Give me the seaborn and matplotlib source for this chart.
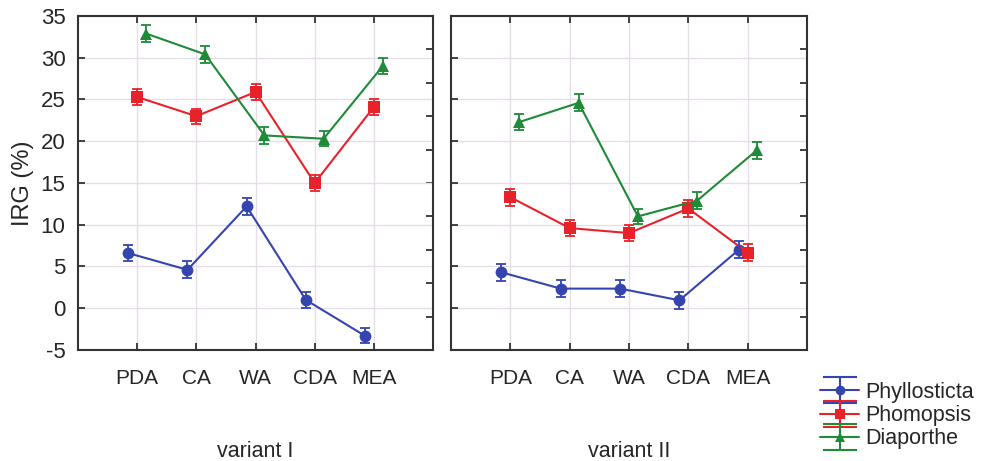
import numpy as np
import pandas as pd
import matplotlib
matplotlib.use('Agg')
import matplotlib.pyplot as plt
import seaborn as sns
from matplotlib.lines import Line2D
from matplotlib.path import Path
from matplotlib.legend_handler import HandlerTuple

# media on the x axis
MEDIA = ['PDA', 'CA', 'WA', 'CDA', 'MEA']
FUNGI = ['Phyllosticta', 'Phomopsis', 'Diaporthe']
VARIANTS = ['variant I', 'variant II']

# IRG (%), one list per fungus and variant
PHYLLO_I = [6.6, 4.6, 12.2, 1.0, -3.3]
PHOMO_I = [25.3, 23.0, 25.9, 15.0, 24.1]
DIAPO_I = [32.9, 30.4, 20.7, 20.3, 29.0]

PHYLLO_II = [4.3, 2.35, 2.35, 0.95, 7.0]
PHOMO_II = [13.3, 9.6, 9.0, 11.95, 6.65]
DIAPO_II = [22.3, 24.6, 11.0, 12.9, 18.9]

# error bar half-widths
ERR_I = [[1.0, 1.0, 1.05, 1.0, 0.9], [1.0, 0.9, 1.0, 1.0, 1.0], [1.0, 1.0, 1.0, 0.9, 1.0]]
ERR_II = [[1.0, 1.0, 1.0, 1.0, 1.0], [1.0, 1.0, 1.0, 1.0, 1.0], [1.0, 1.0, 0.9, 1.0, 1.0]]

COLORS = {'Phyllosticta': '#3545b0', 'Phomopsis': '#e8222a', 'Diaporthe': '#1f8a38'}
MARKERS = {'Phyllosticta': 'o', 'Phomopsis': 's', 'Diaporthe': '^'}
OFFSET = {'Phyllosticta': -0.15, 'Phomopsis': 0.0, 'Diaporthe': 0.15}


def build_df():
    rows = []
    series = {
        'variant I': [PHYLLO_I, PHOMO_I, DIAPO_I],
        'variant II': [PHYLLO_II, PHOMO_II, DIAPO_II],
    }
    errs = {'variant I': ERR_I, 'variant II': ERR_II}
    for v in VARIANTS:
        for fi, f in enumerate(FUNGI):
            for mi, m in enumerate(MEDIA):
                rows.append({'variant': v, 'fungus': f, 'medium': m,
                             'x': mi + OFFSET[f],
                             'irg': series[v][fi][mi], 'err': errs[v][fi][mi]})
    return pd.DataFrame(rows)


df = build_df()

sns.set_style('white')
plt.rcParams['font.family'] = ['Liberation Sans', 'DejaVu Sans']
plt.rcParams['axes.unicode_minus'] = False

fig = plt.figure(figsize=(9.85, 4.61), dpi=100)
ax1 = fig.add_axes([0.0792, 0.2408, 0.3604, 0.7245])
ax2 = fig.add_axes([0.4579, 0.2408, 0.3614, 0.7245])

for ax, v in zip([ax1, ax2], VARIANTS):
    sub = df[df['variant'] == v]
    sns.lineplot(data=sub, x='x', y='irg', hue='fungus', style='fungus',
                 hue_order=FUNGI, style_order=FUNGI, palette=COLORS,
                 markers=MARKERS, dashes=False, markersize=8.5, linewidth=1.5,
                 markeredgewidth=0, errorbar=None, legend=False, ax=ax, zorder=3)
    for f in FUNGI:
        s = sub[sub['fungus'] == f]
        ax.errorbar(s['x'], s['irg'], yerr=s['err'], fmt='none',
                    ecolor=COLORS[f], elinewidth=1.3, capsize=3.5, capthick=1.3, zorder=3)

    ax.set_xlim(-1, 5)
    ax.set_ylim(-5, 35)
    ax.set_xticks(range(len(MEDIA)))
    ax.set_xticklabels(MEDIA, fontsize=15)
    ax.set_yticks(np.arange(-5, 36, 5))
    ax.grid(True, color='#e6dee6', linewidth=1.0)
    ax.set_axisbelow(True)
    ax.tick_params(axis='both', direction='in', length=5, width=1.3, color='#333333',
                   top=True, bottom=True, left=True, right=False)
    ax.tick_params(axis='x', pad=14)
    ax.set_xlabel(v, fontsize=15.5, labelpad=38)
    for sp in ax.spines.values():
        sp.set_color('#333333')
        sp.set_linewidth(1.5)
    # extra ticks on the right spine, as in the original
    sec = ax.secondary_yaxis('right')
    sec.set_yticks(np.arange(-1, 32, 4))
    sec.tick_params(direction='in', length=5, width=1.3, color='#333333', labelright=False)
    sec.spines['right'].set_visible(False)

ax1.set_ylabel('IRG (%)', fontsize=17, labelpad=5)
ax1.tick_params(axis='y', labelsize=16, pad=9)
ax2.set_ylabel('')
ax2.tick_params(axis='y', labelleft=False)

# legend icon: wide error bar drawn sideways (top bar, stem, bottom bar)
bar_icon = Path([(-1, 0.75), (1, 0.75), (0, 0.75), (0, -0.75), (-1, -0.75), (1, -0.75)],
                [Path.MOVETO, Path.LINETO, Path.MOVETO, Path.LINETO, Path.MOVETO, Path.LINETO])
handles = []
for f in FUNGI:
    core = Line2D([], [], color=COLORS[f], marker=MARKERS[f], markersize=7,
                  markeredgewidth=0, linewidth=1.5)
    bars = Line2D([], [], color=COLORS[f], marker=bar_icon, markersize=25,
                  markeredgewidth=1.5, markerfacecolor='none', linestyle='none')
    handles.append((core, bars))
fig.legend(handles, FUNGI, loc='upper left', bbox_to_anchor=(0.824, 0.19),
           frameon=False, fontsize=15.5, handlelength=1.8, labelspacing=0.1,
           handletextpad=0.3, borderaxespad=0,
           handler_map={tuple: HandlerTuple(ndivide=1)})

fig.savefig('out.png', dpi=100)
